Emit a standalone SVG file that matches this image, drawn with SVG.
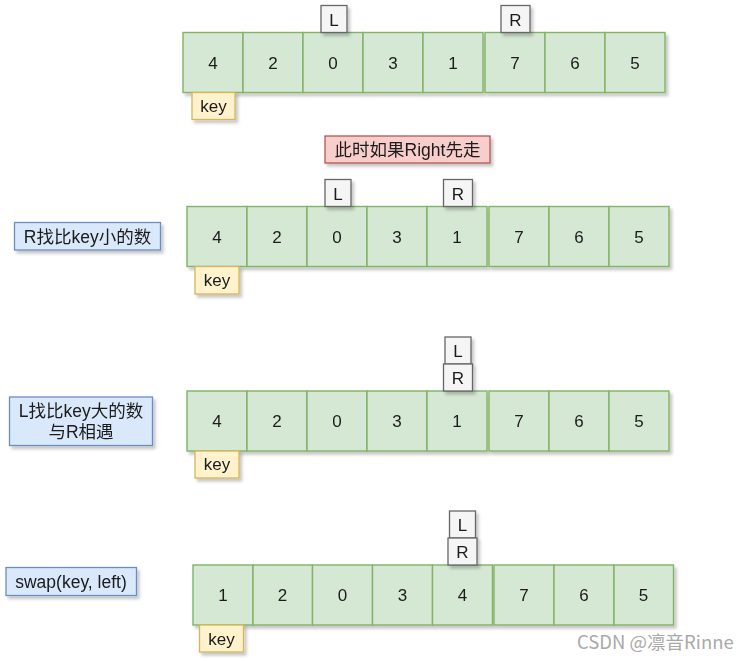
<svg xmlns="http://www.w3.org/2000/svg" width="755" height="661" viewBox="0 0 755 661">
<defs>
<filter id="sh" x="-20%" y="-20%" width="150%" height="150%">
<feDropShadow dx="2.5" dy="3" stdDeviation="1.6" flood-color="#000" flood-opacity="0.22"/>
</filter>
</defs>
<style>
text{font-family:"Liberation Sans","Noto Sans CJK SC",sans-serif;font-size:17px;fill:#1a1a1a;text-anchor:middle}
.l{font-size:17.5px}
.cell{fill:#d5e8d4;stroke:#82b366;stroke-width:1.4}
.ptr{fill:#f5f5f5;stroke:#666666;stroke-width:1.3}
.key{fill:#fff2cc;stroke:#d6b656;stroke-width:1.3}
.lbl{fill:#dae8fc;stroke:#6c8ebf;stroke-width:1.3}
.red{fill:#f8cecc;stroke:#b85450;stroke-width:1.3}
.wm{font-family:"Noto Sans CJK SC","Liberation Sans",sans-serif;font-size:18.5px;fill:#a9a9a9;text-anchor:start}
</style>
<g id="connectors"/>
<!-- Row 1 -->
<g id="row1" filter="url(#sh)">
<g id="r1c1"><rect class="cell" x="183" y="32.5" width="60" height="60"/><text x="213" y="68.5">4</text></g>
<g id="r1c2"><rect class="cell" x="243" y="32.5" width="60" height="60"/><text x="273" y="68.5">2</text></g>
<g id="r1c3"><rect class="cell" x="303" y="32.5" width="60" height="60"/><text x="333" y="68.5">0</text></g>
<g id="r1c4"><rect class="cell" x="363" y="32.5" width="60" height="60"/><text x="393" y="68.5">3</text></g>
<g id="r1c5"><rect class="cell" x="423" y="32.5" width="60" height="60"/><text x="453" y="68.5">1</text></g>
<g id="r1c6"><rect class="cell" x="485" y="32.5" width="60" height="60"/><text x="515" y="68.5">7</text></g>
<g id="r1c7"><rect class="cell" x="545" y="32.5" width="60" height="60"/><text x="575" y="68.5">6</text></g>
<g id="r1c8"><rect class="cell" x="605" y="32.5" width="60" height="60"/><text x="635" y="68.5">5</text></g>
</g>
<g id="r1L" filter="url(#sh)"><rect class="ptr" x="321" y="5.5" width="26" height="27"/><text x="334" y="25.5">L</text></g>
<g id="r1R" filter="url(#sh)"><rect class="ptr" x="501" y="5.5" width="29" height="27"/><text x="515.5" y="25.5">R</text></g>
<g id="r1key" filter="url(#sh)"><rect class="key" x="192" y="92.5" width="43" height="27"/><text x="213.5" y="111.5">key</text></g>
<!-- Red note -->
<g id="note" filter="url(#sh)"><rect class="red" x="325" y="136" width="165" height="27"/><text class="l" x="407.5" y="155.5">此时如果Right先走</text></g>
<!-- Row 2 -->
<g id="lbl2" filter="url(#sh)"><rect class="lbl" x="14.5" y="222.5" width="146" height="27.5"/><text class="l" x="87.5" y="242.5">R找比key小的数</text></g>
<g id="row2" filter="url(#sh)">
<g id="r2c1"><rect class="cell" x="187" y="206.5" width="60" height="60"/><text x="217" y="242.5">4</text></g>
<g id="r2c2"><rect class="cell" x="247" y="206.5" width="60" height="60"/><text x="277" y="242.5">2</text></g>
<g id="r2c3"><rect class="cell" x="307" y="206.5" width="60" height="60"/><text x="337" y="242.5">0</text></g>
<g id="r2c4"><rect class="cell" x="367" y="206.5" width="60" height="60"/><text x="397" y="242.5">3</text></g>
<g id="r2c5"><rect class="cell" x="427" y="206.5" width="60" height="60"/><text x="457" y="242.5">1</text></g>
<g id="r2c6"><rect class="cell" x="489" y="206.5" width="60" height="60"/><text x="519" y="242.5">7</text></g>
<g id="r2c7"><rect class="cell" x="549" y="206.5" width="60" height="60"/><text x="579" y="242.5">6</text></g>
<g id="r2c8"><rect class="cell" x="609" y="206.5" width="60" height="60"/><text x="639" y="242.5">5</text></g>
</g>
<g id="r2L" filter="url(#sh)"><rect class="ptr" x="325" y="179.5" width="26" height="27"/><text x="338" y="199.5">L</text></g>
<g id="r2R" filter="url(#sh)"><rect class="ptr" x="443.5" y="179.5" width="29" height="27"/><text x="458" y="199.5">R</text></g>
<g id="r2key" filter="url(#sh)"><rect class="key" x="195" y="266.5" width="44" height="27.5"/><text x="217" y="286">key</text></g>
<!-- Row 3 -->
<g id="lbl3" filter="url(#sh)"><rect class="lbl" x="9.5" y="397" width="143" height="48.5"/><text class="l" x="81" y="417">L找比key大的数</text><text class="l" x="81" y="437.5">与R相遇</text></g>
<g id="row3" filter="url(#sh)">
<g id="r3c1"><rect class="cell" x="187" y="391" width="60" height="60"/><text x="217" y="427">4</text></g>
<g id="r3c2"><rect class="cell" x="247" y="391" width="60" height="60"/><text x="277" y="427">2</text></g>
<g id="r3c3"><rect class="cell" x="307" y="391" width="60" height="60"/><text x="337" y="427">0</text></g>
<g id="r3c4"><rect class="cell" x="367" y="391" width="60" height="60"/><text x="397" y="427">3</text></g>
<g id="r3c5"><rect class="cell" x="427" y="391" width="60" height="60"/><text x="457" y="427">1</text></g>
<g id="r3c6"><rect class="cell" x="489" y="391" width="60" height="60"/><text x="519" y="427">7</text></g>
<g id="r3c7"><rect class="cell" x="549" y="391" width="60" height="60"/><text x="579" y="427">6</text></g>
<g id="r3c8"><rect class="cell" x="609" y="391" width="60" height="60"/><text x="639" y="427">5</text></g>
</g>
<g id="r3L" filter="url(#sh)"><rect class="ptr" x="445" y="337" width="26" height="27"/><text x="458" y="357">L</text></g>
<g id="r3R" filter="url(#sh)"><rect class="ptr" x="443.5" y="364" width="29" height="27"/><text x="458" y="384">R</text></g>
<g id="r3key" filter="url(#sh)"><rect class="key" x="195" y="451" width="44" height="27"/><text x="217" y="470">key</text></g>
<!-- Row 4 -->
<g id="lbl4" filter="url(#sh)"><rect class="lbl" x="6" y="567.5" width="130.5" height="28"/><text class="l" x="71" y="587.5">swap(key, left)</text></g>
<g id="row4" filter="url(#sh)">
<g id="r4c1"><rect class="cell" x="193" y="565" width="60" height="60"/><text x="223" y="601">1</text></g>
<g id="r4c2"><rect class="cell" x="253" y="565" width="59.5" height="60"/><text x="282.5" y="601">2</text></g>
<g id="r4c3"><rect class="cell" x="312.5" y="565" width="60" height="60"/><text x="342.5" y="601">0</text></g>
<g id="r4c4"><rect class="cell" x="372.5" y="565" width="60" height="60"/><text x="402.5" y="601">3</text></g>
<g id="r4c5"><rect class="cell" x="432.5" y="565" width="60" height="60"/><text x="462.5" y="601">4</text></g>
<g id="r4c6"><rect class="cell" x="494" y="565" width="60" height="60"/><text x="524" y="601">7</text></g>
<g id="r4c7"><rect class="cell" x="554" y="565" width="60" height="60"/><text x="584" y="601">6</text></g>
<g id="r4c8"><rect class="cell" x="614" y="565" width="59.5" height="60"/><text x="643.5" y="601">5</text></g>
</g>
<g id="r4L" filter="url(#sh)"><rect class="ptr" x="449.5" y="511" width="26" height="27"/><text x="462.5" y="531">L</text></g>
<g id="r4R" filter="url(#sh)"><rect class="ptr" x="448" y="538" width="29" height="27"/><text x="462.5" y="558">R</text></g>
<g id="r4key" filter="url(#sh)"><rect class="key" x="199.5" y="625" width="44" height="27"/><text x="221.5" y="644.5">key</text></g>
<text class="wm" x="577" y="649">CSDN @凛音Rinne</text>
</svg>
